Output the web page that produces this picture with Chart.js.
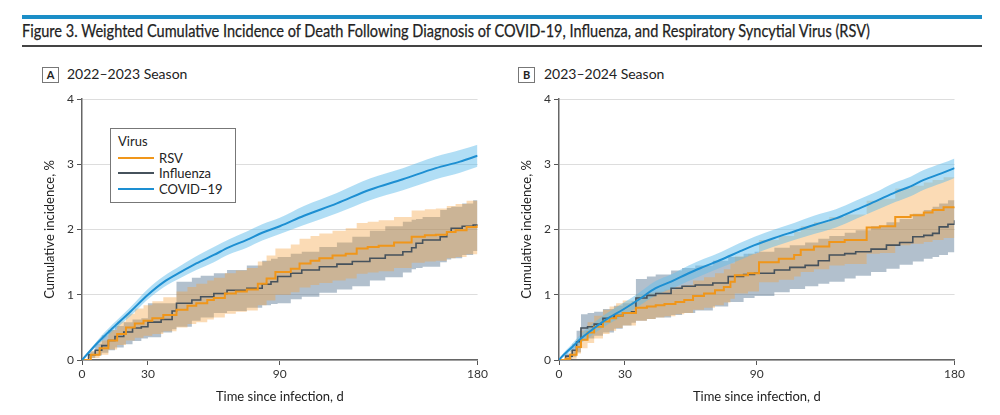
<!DOCTYPE html>
<html><head><meta charset="utf-8">
<script src="https://cdn.jsdelivr.net/npm/chart.js@4.4.1/dist/chart.umd.min.js"></script>
<style>
html,body{margin:0;padding:0;background:#fff;width:1000px;height:415px;overflow:hidden;font-family:Lato,sans-serif;color:#222}
#topRule{position:absolute;left:22px;top:15px;width:960px;height:4px;background:#1b8ec7}
#title{position:absolute;left:22px;top:21px;font-size:17px;line-height:20px;white-space:nowrap;transform-origin:0 0;-webkit-text-stroke:0.25px #222}
#botRule{position:absolute;left:22px;top:45px;width:960px;height:1.5px;background:#444}
.plab{position:absolute;top:67px;width:15px;height:14px;border:1px solid #777;font-size:11px;font-weight:bold;text-align:center;line-height:14px}
.ptxt{position:absolute;top:66px;font-size:14px;line-height:16px;white-space:nowrap}
.cw{position:absolute;top:85px;width:460px;height:320px}
#legend{position:absolute;left:110px;top:128px;width:124px;height:73px;border:1px solid #777;background:#fff;z-index:5}
#legend .hd{position:absolute;left:7px;top:4px;font-size:13px;line-height:16px}
#legend .it{position:absolute;left:7px;height:16px;width:115px}
#legend .sw{position:absolute;left:0;top:7px;width:36px;height:2px}
#legend .tx{position:absolute;left:41px;top:0;font-size:13px;line-height:16px}
</style>
</head><body>
<div id="topRule"></div>
<div id="title">Figure 3. Weighted Cumulative Incidence of Death Following Diagnosis of COVID-19, Influenza, and Respiratory Syncytial Virus (RSV)</div>
<div id="botRule"></div>
<div class="plab" style="left:42px">A</div><div class="ptxt" style="left:67px">2022–2023 Season</div>
<div class="plab" style="left:518px">B</div><div class="ptxt" style="left:544px">2023–2024 Season</div>
<div class="cw" style="left:30px"><canvas id="cA" width="460" height="320"></canvas></div>
<div class="cw" style="left:507px"><canvas id="cB" width="460" height="320"></canvas></div>
<div id="legend">
  <div class="hd">Virus</div>
  <div class="it" style="top:21px"><div class="sw" style="background:#f0961a"></div><div class="tx">RSV</div></div>
  <div class="it" style="top:36px"><div class="sw" style="background:#46525c"></div><div class="tx">Influenza</div></div>
  <div class="it" style="top:52px"><div class="sw" style="background:#1d8fd2"></div><div class="tx">COVID−19</div></div>
</div>
<script>
// ---------- tick values ----------
const X_TICKS = [0, 30, 90, 180];
const Y_TICKS = [0, 1, 2, 3, 4];

// ---------- Panel A: 2022-2023 ----------
const covidA_days = [0,7,14,22,30,37,45,52,60,67,75,82,90,101,116,131,146,161,172,180];
const covidA_est  = [0,0.26,0.49,0.74,1.0,1.19,1.35,1.48,1.61,1.73,1.84,1.95,2.05,2.21,2.40,2.61,2.77,2.94,3.04,3.13];
const covidA_lo   = [0,0.22,0.44,0.67,0.93,1.11,1.26,1.38,1.50,1.62,1.72,1.83,1.93,2.07,2.25,2.45,2.60,2.77,2.87,2.96];
const covidA_hi   = [0,0.30,0.55,0.81,1.09,1.28,1.45,1.59,1.73,1.85,1.97,2.08,2.18,2.36,2.56,2.78,2.94,3.12,3.22,3.30];

const fluA_days = [0,3,6,9,12,15,19,23,27,30,36,41,43,50,54,60,66,75,82,86,89,95,100,108,116,123,131,138,146,150,152,155,163,166,168,173,178,180];
const fluA_est  = [0,0.08,0.15,0.22,0.30,0.36,0.43,0.49,0.51,0.58,0.62,0.75,0.87,0.92,0.97,1.02,1.07,1.10,1.16,1.20,1.28,1.33,1.38,1.43,1.47,1.51,1.56,1.61,1.66,1.72,1.79,1.84,1.89,1.96,2.02,2.05,2.07,2.08];
const fluA_lo   = [0,0.03,0.07,0.11,0.15,0.19,0.24,0.29,0.33,0.35,0.42,0.47,0.51,0.60,0.65,0.72,0.75,0.80,0.84,0.86,0.87,0.93,0.97,1.03,1.08,1.13,1.22,1.27,1.34,1.39,1.41,1.43,1.50,1.54,1.56,1.61,1.67,1.69];
const fluA_hi   = [0,0.13,0.25,0.38,0.46,0.52,0.58,0.62,0.64,0.87,0.87,0.87,1.20,1.26,1.29,1.33,1.38,1.45,1.52,1.55,1.58,1.63,1.66,1.73,1.80,1.89,1.98,2.05,2.12,2.15,2.16,2.19,2.30,2.33,2.35,2.40,2.45,2.48];

const rsvA_days = [0,4,8,12,16,20,24,28,32,37,43,48,52,57,60,65,70,75,80,84,88,95,99,104,108,114,120,125,130,135,142,150,156,161,166,170,175,180];
const rsvA_est  = [0,0.08,0.18,0.30,0.40,0.50,0.56,0.60,0.64,0.69,0.77,0.83,0.87,0.92,0.95,1.02,1.05,1.08,1.17,1.25,1.35,1.40,1.48,1.52,1.56,1.60,1.63,1.71,1.73,1.75,1.80,1.89,1.91,1.92,1.96,1.99,2.04,2.07];
const rsvA_lo   = [0,0.03,0.08,0.16,0.23,0.30,0.34,0.37,0.40,0.44,0.50,0.55,0.58,0.62,0.65,0.71,0.74,0.76,0.84,0.91,1.00,1.04,1.11,1.15,1.18,1.22,1.25,1.32,1.34,1.36,1.41,1.49,1.51,1.52,1.56,1.58,1.62,1.64];
const rsvA_hi   = [0,0.14,0.30,0.46,0.59,0.71,0.79,0.84,0.90,0.96,1.05,1.12,1.17,1.22,1.26,1.33,1.37,1.41,1.51,1.60,1.71,1.77,1.86,1.90,1.94,1.98,2.02,2.10,2.12,2.14,2.19,2.29,2.31,2.32,2.36,2.39,2.44,2.47];

// ---------- Panel B: 2023-2024 ----------
const covidB_days = [0,1,6,10,13,21,29,36,44,51,59,66,74,82,89,98,107,116,126,135,144,153,160,166,174,180];
const covidB_est  = [0,0.04,0.20,0.33,0.41,0.61,0.77,0.92,1.10,1.20,1.33,1.43,1.54,1.66,1.76,1.87,1.97,2.07,2.17,2.30,2.43,2.57,2.66,2.76,2.86,2.94];
const covidB_lo   = [0,0.02,0.15,0.26,0.33,0.52,0.67,0.82,0.99,1.09,1.21,1.31,1.42,1.53,1.63,1.74,1.84,1.93,2.03,2.16,2.29,2.42,2.51,2.61,2.71,2.79];
const covidB_hi   = [0,0.06,0.25,0.40,0.49,0.70,0.87,1.02,1.21,1.31,1.45,1.55,1.66,1.79,1.89,2.00,2.10,2.21,2.31,2.44,2.57,2.72,2.81,2.91,3.01,3.09];

const fluB_days = [0,3,6,8,10,13,16,20,25,29,33,35,40,44,51,56,62,70,77,84,89,98,105,112,118,123,130,135,142,149,155,161,166,170,173,177,180];
const fluB_est  = [0,0.06,0.15,0.28,0.49,0.51,0.55,0.64,0.68,0.72,0.74,0.95,0.99,1.02,1.10,1.13,1.15,1.18,1.28,1.31,1.33,1.38,1.42,1.45,1.52,1.61,1.63,1.66,1.70,1.76,1.80,1.89,1.91,1.94,2.04,2.08,2.14];
const fluB_lo   = [0,0.02,0.05,0.12,0.30,0.33,0.37,0.42,0.48,0.53,0.57,0.60,0.63,0.65,0.69,0.72,0.76,0.82,0.89,0.95,0.98,1.04,1.09,1.13,1.17,1.20,1.25,1.29,1.35,1.40,1.46,1.51,1.55,1.58,1.61,1.65,1.69];
const fluB_hi   = [0,0.10,0.25,0.45,0.70,0.72,0.74,0.78,0.83,0.87,0.90,1.24,1.28,1.31,1.37,1.41,1.45,1.52,1.58,1.63,1.66,1.72,1.76,1.80,1.86,1.90,1.95,1.99,2.05,2.11,2.16,2.24,2.30,2.35,2.40,2.45,2.49];

const rsvB_days = [0,3,5,8,10,13,16,20,23,26,29,35,40,44,48,53,57,61,66,71,75,78,80,86,90,91,100,107,110,116,123,130,140,146,153,160,166,170,175,180];
const rsvB_est  = [0,0.02,0.08,0.20,0.31,0.42,0.51,0.59,0.64,0.68,0.72,0.80,0.82,0.84,0.86,0.89,0.92,0.98,1.02,1.07,1.12,1.20,1.30,1.33,1.33,1.50,1.55,1.61,1.69,1.74,1.81,1.84,2.03,2.05,2.19,2.22,2.26,2.30,2.34,2.35];
const rsvB_lo   = [0,0,0.02,0.10,0.18,0.26,0.33,0.40,0.45,0.49,0.53,0.60,0.63,0.65,0.67,0.70,0.72,0.77,0.80,0.84,0.88,0.94,1.02,1.05,1.05,1.19,1.23,1.28,1.35,1.39,1.45,1.47,1.63,1.64,1.76,1.78,1.81,1.84,1.87,1.88];
const rsvB_hi   = [0,0.05,0.15,0.32,0.45,0.58,0.68,0.77,0.82,0.87,0.91,1.00,1.03,1.05,1.08,1.12,1.15,1.22,1.27,1.33,1.39,1.48,1.59,1.63,1.64,1.84,1.90,1.96,2.05,2.11,2.19,2.23,2.44,2.47,2.63,2.67,2.72,2.76,2.80,2.81];

// ---------- styles ----------
const COL = {covid:'#1d8fd2', rsv:'#f0961a', flu:'#46525c'};
const BAND = {covid:'rgba(100,190,235,0.5)', rsv:'rgba(245,160,60,0.38)', flu:'rgba(85,115,145,0.45)'};

function pts(days, vals){ return days.map((d,i)=>({x:d, y:vals[i]})); }
function addSeries(ds, days, est, lo, hi, key, lw, stepped, lineOrder, bandOrder){
  const loIdx = ds.length;
  const interp = stepped ? {} : {cubicInterpolationMode:'monotone'};
  ds.push(Object.assign({data:pts(days,lo), borderColor:'transparent', borderWidth:0, pointRadius:0, stepped:stepped, fill:false, order:bandOrder}, interp));
  ds.push(Object.assign({data:pts(days,hi), borderColor:'transparent', borderWidth:0, pointRadius:0, stepped:stepped, fill:{target:loIdx}, backgroundColor:BAND[key], order:bandOrder}, interp));
  ds.push(Object.assign({data:pts(days,est), borderColor:COL[key], borderWidth:lw, pointRadius:0, stepped:stepped, fill:false, order:lineOrder}, interp));
}
function buildOptions(){
  const tickFont = {family:'Lato', size:12};
  return {
    responsive:false, animation:false, devicePixelRatio:1,
    layout:{autoPadding:false, padding:{top:14, right:12, left:0, bottom:0}},
    plugins:{legend:{display:false}, tooltip:{enabled:false}},
    scales:{
      x:{type:'linear', min:0, max:180,
        afterBuildTicks:s=>{s.ticks = X_TICKS.map(v=>({value:v}));},
        afterFit:s=>{s.height = 45;},
        grid:{drawOnChartArea:false, drawTicks:true, tickLength:5, tickColor:'#555', tickWidth:1},
        border:{display:true, color:'#666', width:1.5},
        ticks:{font:tickFont, color:'#333', padding:2, maxRotation:0, autoSkip:false},
        title:{display:true, text:'Time since infection, d', font:{family:'Lato', size:13}, color:'#222', padding:{top:4, bottom:0}}
      },
      y:{type:'linear', min:0, max:4,
        afterBuildTicks:s=>{s.ticks = Y_TICKS.map(v=>({value:v}));},
        afterFit:s=>{s.width = 52;},
        grid:{color:'#dddddd', lineWidth:1, drawTicks:true, tickLength:5, tickColor:'#555', tickWidth:1},
        border:{display:true, color:'#666', width:1.5},
        ticks:{font:tickFont, color:'#333', padding:3},
        title:{display:true, text:'Cumulative incidence, %', font:{family:'Lato', size:13}, color:'#222', padding:{top:12, bottom:0}}
      }
    }
  };
}
function makeChart(id, covid, flu, rsv){
  const ds = [];
  addSeries(ds, covid[0], covid[1], covid[2], covid[3], 'covid', 2, false, 1, 4);
  addSeries(ds, rsv[0], rsv[1], rsv[2], rsv[3], 'rsv', 2, true, 2, 5);
  addSeries(ds, flu[0], flu[1], flu[2], flu[3], 'flu', 1.6, true, 3, 6);
  new Chart(document.getElementById(id), {type:'line', data:{datasets:ds}, options:buildOptions()});
}
makeChart('cA', [covidA_days,covidA_est,covidA_lo,covidA_hi], [fluA_days,fluA_est,fluA_lo,fluA_hi], [rsvA_days,rsvA_est,rsvA_lo,rsvA_hi]);
makeChart('cB', [covidB_days,covidB_est,covidB_lo,covidB_hi], [fluB_days,fluB_est,fluB_lo,fluB_hi], [rsvB_days,rsvB_est,rsvB_lo,rsvB_hi]);

// fit title width to the reference span
const t = document.getElementById('title');
const w = t.getBoundingClientRect().width;
t.style.transform = 'scaleX(' + (848 / w) + ')';
</script>
</body></html>
